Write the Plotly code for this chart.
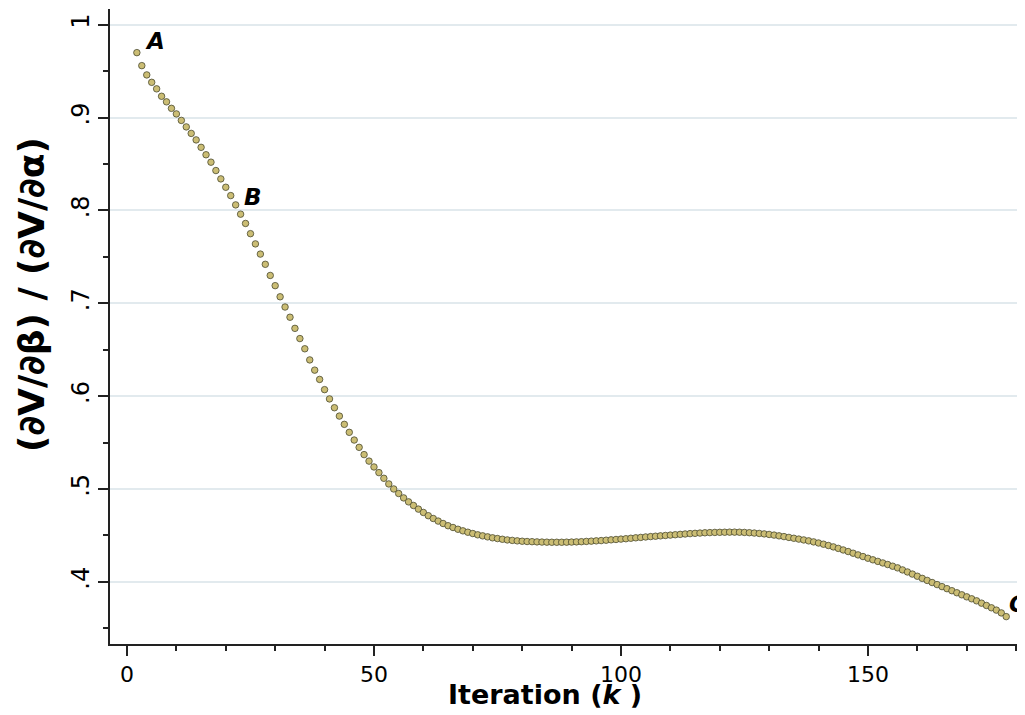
import plotly.graph_objects as go

iterations = list(range(2, 179))
ratio = [
    0.970, 0.956, 0.946, 0.938, 0.931, 0.923, 0.917, 0.910, 0.904, 0.897,
    0.890, 0.883, 0.876, 0.868, 0.860, 0.852, 0.843, 0.834, 0.825, 0.816,
    0.806, 0.796, 0.786, 0.775, 0.764, 0.753, 0.742, 0.730, 0.719, 0.707,
    0.696, 0.685, 0.673, 0.662, 0.651, 0.639, 0.628, 0.618, 0.607, 0.597,
    0.5875, 0.5785, 0.5696, 0.561, 0.5527, 0.5448, 0.537, 0.530,
    0.5237, 0.5176, 0.5115, 0.5054, 0.5000, 0.4951, 0.4904, 0.4861, 0.4822, 0.4783,
    0.4747, 0.4712, 0.4682, 0.4654, 0.4628, 0.4604, 0.4585, 0.4566, 0.4549, 0.4534,
    0.4520, 0.4506, 0.4495, 0.4484, 0.4474, 0.4466, 0.4458, 0.4451, 0.4446, 0.4441,
    0.4437, 0.4434, 0.4432,
    0.4430, 0.4428, 0.4427, 0.4426, 0.4426, 0.4426, 0.4427, 0.4428, 0.4430, 0.4432,
    0.4435, 0.4438, 0.4441, 0.4444, 0.4448, 0.4452, 0.4456, 0.4460, 0.4464, 0.4469,
    0.4474, 0.4478, 0.4483, 0.4487, 0.4491, 0.4495, 0.4499, 0.4503, 0.4507, 0.4511,
    0.4515, 0.4519, 0.4522, 0.4525, 0.4528, 0.4530, 0.4532,
    0.4533, 0.4534, 0.4535, 0.4535, 0.4534, 0.4532, 0.4529, 0.4525, 0.4521, 0.4516,
    0.4510, 0.4503, 0.4495, 0.4487, 0.4478, 0.4469, 0.4460, 0.4451, 0.4441, 0.4430,
    0.4418, 0.4405, 0.4391, 0.4376, 0.4360, 0.4343, 0.4326, 0.4308, 0.4290, 0.4272,
    0.4254, 0.4237, 0.4220, 0.4203, 0.4186, 0.4168, 0.4150, 0.4128, 0.4106, 0.4083,
    0.4060, 0.4037, 0.4015, 0.3992, 0.3970, 0.3948, 0.3926, 0.3904, 0.3882, 0.3860,
    0.3838, 0.3817, 0.3795, 0.3770, 0.3745, 0.3720, 0.3695, 0.3665, 0.3625,
]

point_labels = ["A", "B", "C"]
label_x = [3.2, 23.3, 178.2]
label_y = [0.983, 0.815, 0.3765]

y_tickvals = [0.4, 0.5, 0.6, 0.7, 0.8, 0.9, 1.0]
y_ticktext = [".4", ".5", ".6", ".7", ".8", ".9", "1"]
x_tickvals = [0, 50, 100, 150]
x_ticktext = ["0", "50", "100", "150"]

x_title = "<b>Iteration (<i>k</i> )</b>"
y_title = "<b>(∂V/∂β) / (∂V/∂α)</b>"

FONT = "DejaVu Sans, Verdana, sans-serif"

# the page body has an 8px margin, so the figure is laid out 8px smaller
fig = go.Figure()
fig.add_trace(go.Scatter(
    x=iterations, y=ratio, mode="markers",
    marker=dict(size=6.5, color="#cbbd74", line=dict(color="#4a4a30", width=0.8)),
    showlegend=False, hoverinfo="skip",
))

for t, x, y in zip(point_labels, label_x, label_y):
    fig.add_annotation(x=x, y=y, text=f"<b><i>{t}</i></b>", showarrow=False,
                       font=dict(family=FONT, size=23, color="black"),
                       xanchor="left", yanchor="middle")

fig.add_annotation(xref="paper", yref="paper", x=(545 - 110) / 915, y=(644 - 695) / 635,
                   text=x_title, showarrow=False, xanchor="center", yanchor="middle",
                   font=dict(family=FONT, size=27, color="black"))
fig.add_annotation(xref="paper", yref="paper", x=(31 - 110) / 915, y=(644 - 295) / 635,
                   text=y_title, showarrow=False, textangle=-90, xanchor="center", yanchor="middle",
                   font=dict(family=FONT, size=36, color="black"))

fig.update_layout(
    width=1017, height=707,
    margin=dict(l=102, r=0, t=1, b=71),
    paper_bgcolor="white", plot_bgcolor="white",
    font=dict(family=FONT, color="black"),
)
fig.update_xaxes(
    range=[-3.44, 181.8], automargin=False,
    tickvals=x_tickvals, ticktext=x_ticktext,
    ticks="outside", ticklen=10, tickwidth=1.5, tickcolor="#222",
    showline=True, linecolor="#222", linewidth=1.5,
    showgrid=False, zeroline=False,
    tickfont=dict(size=22, family=FONT),
    minor=dict(dtick=10, tick0=0, ticks="outside", ticklen=5, tickwidth=1.5, tickcolor="#222", showgrid=False),
)
fig.update_yaxes(
    range=[0.333, 1.017], automargin=False,
    tickvals=y_tickvals, ticktext=y_ticktext, tickangle=-90,
    ticks="outside", ticklen=10, tickwidth=1.5, tickcolor="#222",
    showline=True, linecolor="#222", linewidth=1.5,
    showgrid=True, gridcolor="#e2eaee", gridwidth=1.5, zeroline=False,
    tickfont=dict(size=24, family=FONT),
    minor=dict(dtick=0.05, tick0=0, ticks="outside", ticklen=5, tickwidth=1.5, tickcolor="#222", showgrid=False),
)

fig.write_html("out.html")
